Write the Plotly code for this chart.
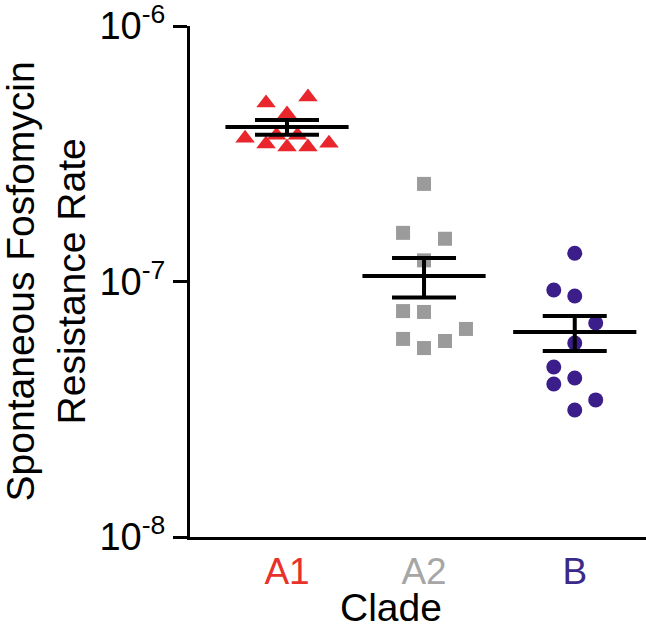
import plotly.graph_objects as go

# ---- data ----
clades = ["A1", "A2", "B"]
marker_colors = ["#E8262B", "#9B9B9B", "#3B1E8A"]
label_colors = ["#E8312A", "#A6A6A6", "#3B2A8A"]
marker_symbols = ["triangle-up", "square", "circle"]

a1_rate = [5.00e-7, 5.27e-7, 4.52e-7, 3.64e-7, 3.74e-7, 3.74e-7, 3.45e-7, 3.36e-7, 3.36e-7, 3.48e-7]
a2_rate = [2.41e-7, 1.55e-7, 1.47e-7, 1.21e-7, 7.66e-8, 7.60e-8, 5.96e-8, 5.49e-8, 5.85e-8, 6.52e-8]
b_rate = [1.29e-7, 9.26e-8, 8.77e-8, 6.88e-8, 5.74e-8, 4.63e-8, 3.97e-8, 4.19e-8, 3.44e-8, 3.14e-8]

clade_mean = [4.02e-7, 1.05e-7, 6.34e-8]
clade_sem = [0.27e-7, 0.185e-7, 0.99e-8]

y_tickvals = [1e-8, 1e-7, 1e-6]
y_ticktext = ["10<sup>-8</sup>", "10<sup>-7</sup>", "10<sup>-6</sup>"]

# ---- layout helpers (positions, not data) ----
slot_x = [1.0, 2.0, 3.1]
jitter_step = 0.153
a1_jitter = [-1, 1, 0, -2, -0.5, 0.5, -1, 0, 1, 2]
a2_jitter = [0, -1, 1, 0, -1, 0, -1, 0, 1, 2]
b_jitter = [0, -1, 0, 1, 0, -1, -1, 0, 1, 0]

rates = [a1_rate, a2_rate, b_rate]
jitters = [a1_jitter, a2_jitter, b_jitter]
sizes = [17, 14, 15]

FONT = "Liberation Sans, Arial, Helvetica, sans-serif"

fig = go.Figure()

for i, name in enumerate(clades):
    xs = [slot_x[i] + j * jitter_step for j in jitters[i]]
    fig.add_trace(go.Scatter(
        x=xs, y=rates[i], mode="markers", name=name, showlegend=False,
        marker=dict(symbol=marker_symbols[i], size=sizes[i],
                    color=marker_colors[i], line=dict(width=0)),
        hoverinfo="y"))

# mean line + SEM error bars
fig.add_trace(go.Scatter(
    x=slot_x, y=clade_mean, mode="markers", showlegend=False,
    marker=dict(symbol="line-ew", size=88, color="black",
                line=dict(width=4, color="black")),
    error_y=dict(type="data", array=clade_sem, visible=True,
                 width=32, thickness=4, color="black"),
    hoverinfo="y",
))

fig.update_layout(
    width=646, height=634,
    margin=dict(l=190, r=0, t=26, b=97, autoexpand=False),
    paper_bgcolor="white", plot_bgcolor="white",
    font=dict(family=FONT, color="black"),
    xaxis=dict(
        range=[0.292, 3.62], automargin=False,
        showgrid=False, zeroline=False,
        showline=True, linewidth=3, linecolor="black",
        tickvals=slot_x,
        ticktext=[f'<span style="color:{c}">{t}</span>' for t, c in zip(clades, label_colors)],
        tickfont=dict(size=37, family=FONT),
        ticks="", ticklabeloverflow="allow",
    ),
    yaxis=dict(
        type="log", range=[-8, -6], automargin=False,
        showgrid=False, zeroline=False,
        showline=True, linewidth=3, linecolor="black",
        tickvals=y_tickvals, ticktext=y_ticktext,
        tickfont=dict(size=38, family=FONT),
        ticks="outside", ticklen=14, tickwidth=3, tickcolor="black",
        ticklabeloverflow="allow",
    ),
    annotations=[
        dict(text="Spontaneous Fosfomycin<br>Resistance Rate", textangle=-90,
             xref="paper", yref="paper", x=-0.316, y=0.5,
             xanchor="center", yanchor="middle", showarrow=False,
             font=dict(size=39, family=FONT, color="black")),
        dict(text="Clade", xref="paper", yref="paper", x=0.44, y=-0.138,
             xanchor="center", yanchor="middle", showarrow=False,
             font=dict(size=39, family=FONT, color="black")),
    ],
)

fig.write_html("out.html", config={"displayModeBar": False},
               post_script="document.body.style.margin='0';document.body.style.overflow='hidden';")
